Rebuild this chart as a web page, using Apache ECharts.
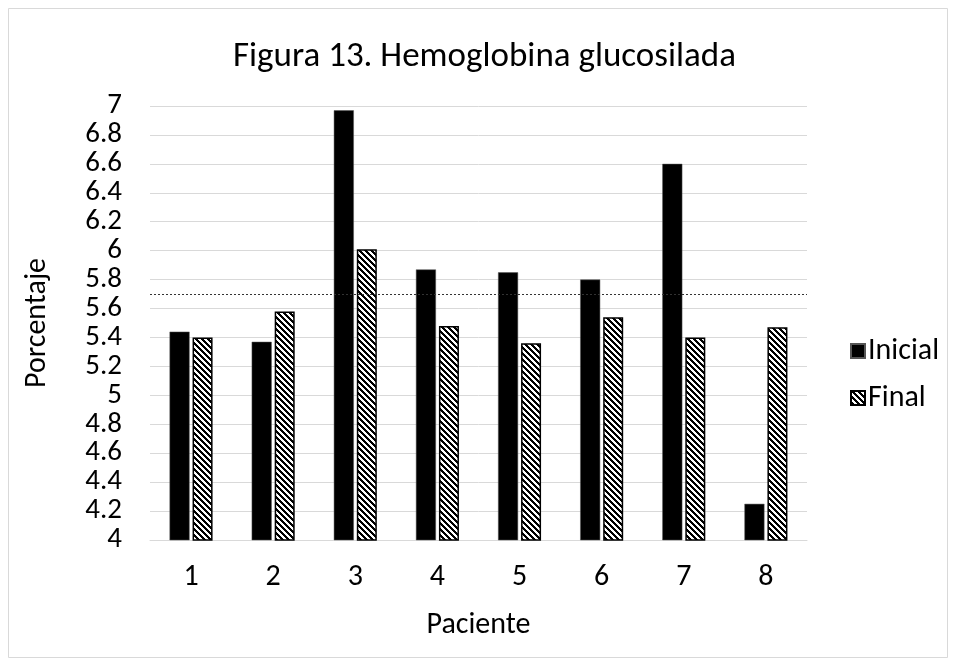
<!DOCTYPE html>
<html>
<head>
<meta charset="utf-8">
<script src="https://cdn.jsdelivr.net/npm/echarts@6/dist/echarts.min.js"></script>
<style>
  html, body { margin: 0; padding: 0; background: #fff; }
  #chart { width: 956px; height: 666px; }
</style>
</head>
<body>
<div id="chart"></div>
<script>
// datos
const pacientes = ['1', '2', '3', '4', '5', '6', '7', '8']
const inicial = [5.44, 5.37, 6.97, 5.87, 5.85, 5.80, 6.60, 4.25]
const final = [5.40, 5.58, 6.01, 5.48, 5.36, 5.54, 5.40, 5.47]
const umbral = 5.7
const yMin = 4
const yMax = 7
const yStep = 0.2

const font = 'Carlito, Calibri, "Open Sans", sans-serif'

// trama de rayas diagonales para "Final"
const makeHatch = () => {
  const size = 6
  const c = document.createElement('canvas')
  c.width = size
  c.height = size
  const ctx = c.getContext('2d')
  const img = ctx.createImageData(size, size)
  for (let y = 0; y < size; y++) {
    for (let x = 0; x < size; x++) {
      const k = ((x - y) % size + size) % size
      const v = k < 3 ? 0 : 255
      const i = (y * size + x) * 4
      img.data[i] = v
      img.data[i + 1] = v
      img.data[i + 2] = v
      img.data[i + 3] = 255
    }
  }
  ctx.putImageData(img, 0, 0)
  return c
}

const chart = echarts.init(document.getElementById('chart'))
const option = {
  animation: false,
  backgroundColor: '#fff',
  title: {
    text: 'Figura 13. Hemoglobina glucosilada',
    left: 233,
    top: 40,
    padding: 0,
    textStyle: {
      fontFamily: font,
      fontSize: 35,
      fontWeight: 'normal',
      color: '#000'
    }
  },
  legend: {
    orient: 'vertical',
    left: 850,
    top: 336,
    padding: 0,
    itemWidth: 14,
    itemHeight: 14,
    itemGap: 17,
    icon: 'rect',
    textStyle: {
      fontFamily: font,
      fontSize: 30,
      color: '#000',
      padding: [0, 0, 0, -2]
    },
    data: ['Inicial', 'Final']
  },
  graphic: [{
    type: 'rect',
    shape: {x: 8.5, y: 8.5, width: 939, height: 649},
    style: {fill: 'none', stroke: '#d9d9d9', lineWidth: 1},
    silent: true
  }],
  grid: {
    left: 150,
    right: 149,
    top: 106,
    bottom: 126
  },
  xAxis: {
    type: 'category',
    data: pacientes,
    name: 'Paciente',
    nameLocation: 'middle',
    nameGap: 70,
    nameTextStyle: {
      fontFamily: font,
      fontSize: 30,
      color: '#000'
    },
    axisLine: {lineStyle: {color: '#d9d9d9', width: 1}},
    axisTick: {show: false},
    axisLabel: {
      fontFamily: font,
      fontSize: 30,
      color: '#000',
      margin: 22
    }
  },
  yAxis: {
    type: 'value',
    min: yMin,
    max: yMax,
    interval: yStep,
    name: 'Porcentaje',
    nameLocation: 'middle',
    nameGap: 98,
    nameTextStyle: {
      fontFamily: font,
      fontSize: 30,
      color: '#000'
    },
    axisLine: {show: false},
    axisTick: {show: false},
    axisLabel: {
      fontFamily: font,
      fontSize: 29,
      lineHeight: 18,
      color: '#000',
      margin: 28,
      showMinLabel: true,
      showMaxLabel: true,
      hideOverlap: false
    },
    splitLine: {lineStyle: {color: '#d9d9d9', width: 1}}
  },
  series: [
    {
      name: 'Inicial',
      type: 'bar',
      data: inicial,
      barWidth: 20,
      barGap: '15%',
      itemStyle: {
        color: '#000',
        borderColor: '#555',
        borderWidth: 0.5
      },
      markLine: {
        silent: true,
        symbol: 'none',
        label: {show: false},
        lineStyle: {color: '#333', type: [2, 2], width: 1},
        data: [{yAxis: umbral}]
      }
    },
    {
      name: 'Final',
      type: 'bar',
      data: final,
      barWidth: 20,
      itemStyle: {
        color: {image: makeHatch(), repeat: 'repeat'},
        borderColor: '#000',
        borderWidth: 1.5
      }
    }
  ]
}
chart.setOption(option)
</script>
</body>
</html>
